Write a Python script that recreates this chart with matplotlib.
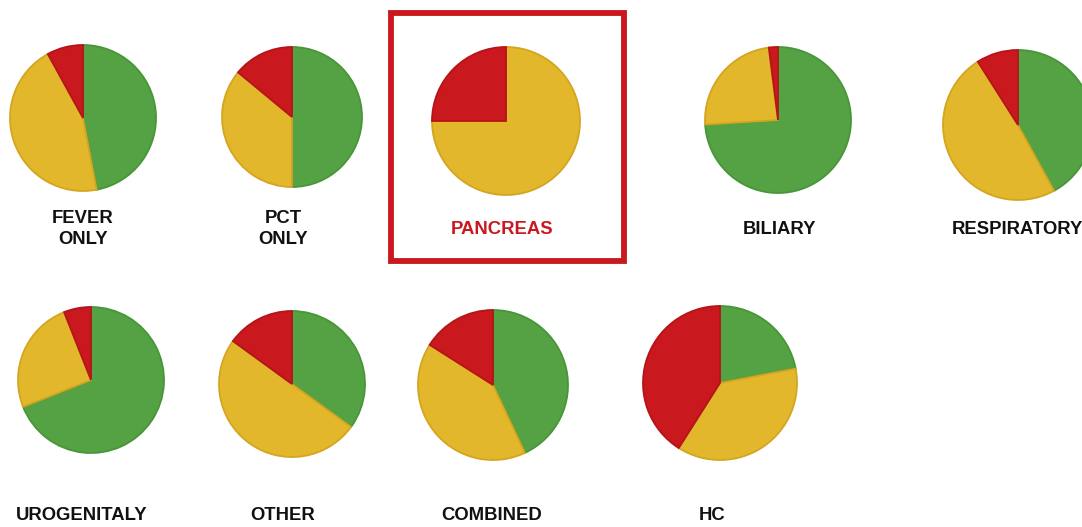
import matplotlib
matplotlib.use("Agg")
import matplotlib.pyplot as plt
from matplotlib.patches import Rectangle

# Share of patients per group (percent): green / yellow / red
groups = ["FEVER\nONLY", "PCT\nONLY", "PANCREAS", "BILIARY", "RESPIRATORY",
          "UROGENITALY", "OTHER", "COMBINED", "HC"]
green = [47, 50, 0, 74, 42, 69, 35, 43, 22]
yellow = [45, 36, 75, 24, 49, 25, 50, 41, 37]
red = [8, 14, 25, 2, 9, 6, 15, 16, 41]

W, H = 1082, 527

# pie centres / radii and label anchors in pixel space (y measured from top)
pie_x = [83, 292, 506, 778, 1018, 91, 292, 493, 720]
pie_y = [118, 117, 121, 120, 125, 380, 384, 385, 383]
pie_r = [73, 70, 74, 73, 75, 73, 73, 75, 77]
lab_x = [83, 283, 502, 779, 1017, 82, 283, 492, 712]
lab_y = [229, 229, 229, 229, 229, 515, 515, 515, 515]

FILL = ["#55a244", "#e3b72b", "#c9181e"]
EDGE = ["#479637", "#d3a520", "#b51418"]
HIGHLIGHT = "PANCREAS"

plt.rcParams["font.family"] = ["Liberation Sans", "DejaVu Sans"]

fig = plt.figure(figsize=(W / 100, H / 100), dpi=100)
ax = fig.add_axes([0, 0, 1, 1])

for i, name in enumerate(groups):
    vals = [green[i], yellow[i], red[i]]
    keep = [k for k, v in enumerate(vals) if v > 0]
    wedges, _ = ax.pie([vals[k] for k in keep],
                       colors=[FILL[k] for k in keep],
                       center=(pie_x[i], H - pie_y[i]), radius=pie_r[i],
                       startangle=90, counterclock=False,
                       wedgeprops=dict(linewidth=1.3))
    for w, k in zip(wedges, keep):
        w.set_edgecolor(EDGE[k])

    col = "#c9181e" if name == HIGHLIGHT else "#111111"
    ax.text(lab_x[i], H - lab_y[i], name, ha="center", va="center",
            fontsize=13.3, fontweight="bold", color=col, linespacing=1.38)

# frame around the highlighted group
ax.add_patch(Rectangle((390.5, H - 260.5), 233, 248, fill=False,
                       edgecolor="#c9181e", linewidth=4.2))

ax.set_xlim(0, W)
ax.set_ylim(0, H)
ax.set_aspect("equal")
ax.axis("off")

fig.savefig("out.png", dpi=100, facecolor="white")
